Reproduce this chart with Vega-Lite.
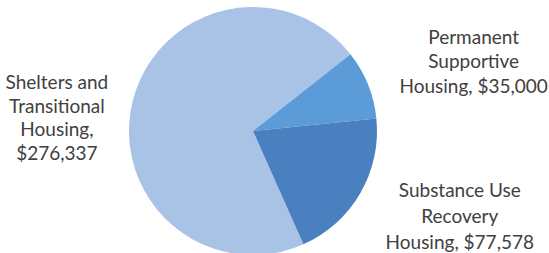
{
  "$schema": "https://vega.github.io/schema/vega-lite/v6.json",
  "width": 506,
  "height": 244,
  "autosize": {"type": "none"},
  "padding": {"left": 0, "top": 9, "right": 43, "bottom": 0},
  "background": "white",
  "view": {"stroke": null},
  "data": {"values": [
    {"category": "Shelters and Transitional Housing", "amount": 276337, "idx": 1, "label": "Shelters and|Transitional|Housing,|$276,337"},
    {"category": "Permanent Supportive Housing", "amount": 35000, "idx": 2, "label": "Permanent|Supportive|Housing, $35,000"},
    {"category": "Substance Use Recovery Housing", "amount": 77578, "idx": 3, "label": "Substance Use|Recovery|Housing, $77,578"}
  ]},
  "encoding": {
    "theta": {"field": "amount", "type": "quantitative", "stack": true, "scale": {"range": [2.7227, 9.0059]}},
    "order": {"field": "idx", "type": "quantitative"}
  },
  "layer": [
    {
      "mark": {"type": "arc", "outerRadius": 124},
      "encoding": {
        "color": {"field": "category", "type": "nominal", "legend": null,
          "scale": {"domain": ["Shelters and Transitional Housing", "Permanent Supportive Housing", "Substance Use Recovery Housing"],
                    "range": ["#a9c3e7", "#5b9bd7", "#4a80c0"]}}
      }
    },
    {
      "mark": {"type": "text", "radius": 202, "dy": 1, "font": "Lato", "fontSize": 19, "fill": "#404040", "lineBreak": "|", "lineHeight": 23.5, "align": "center", "baseline": "middle"},
      "encoding": {"text": {"condition": {"test": "datum.idx == 1", "field": "label"}, "value": ""}}
    },
    {
      "mark": {"type": "text", "radius": 238, "dy": -4, "font": "Lato", "fontSize": 19, "fill": "#404040", "lineBreak": "|", "lineHeight": 24.5, "align": "center", "baseline": "middle"},
      "encoding": {"text": {"condition": {"test": "datum.idx == 2", "field": "label"}, "value": ""}}
    },
    {
      "mark": {"type": "text", "radius": 239, "dy": -60, "font": "Lato", "fontSize": 19, "fill": "#404040", "lineBreak": "|", "lineHeight": 26, "align": "center", "baseline": "middle"},
      "encoding": {"text": {"condition": {"test": "datum.idx == 3", "field": "label"}, "value": ""}}
    }
  ]
}
